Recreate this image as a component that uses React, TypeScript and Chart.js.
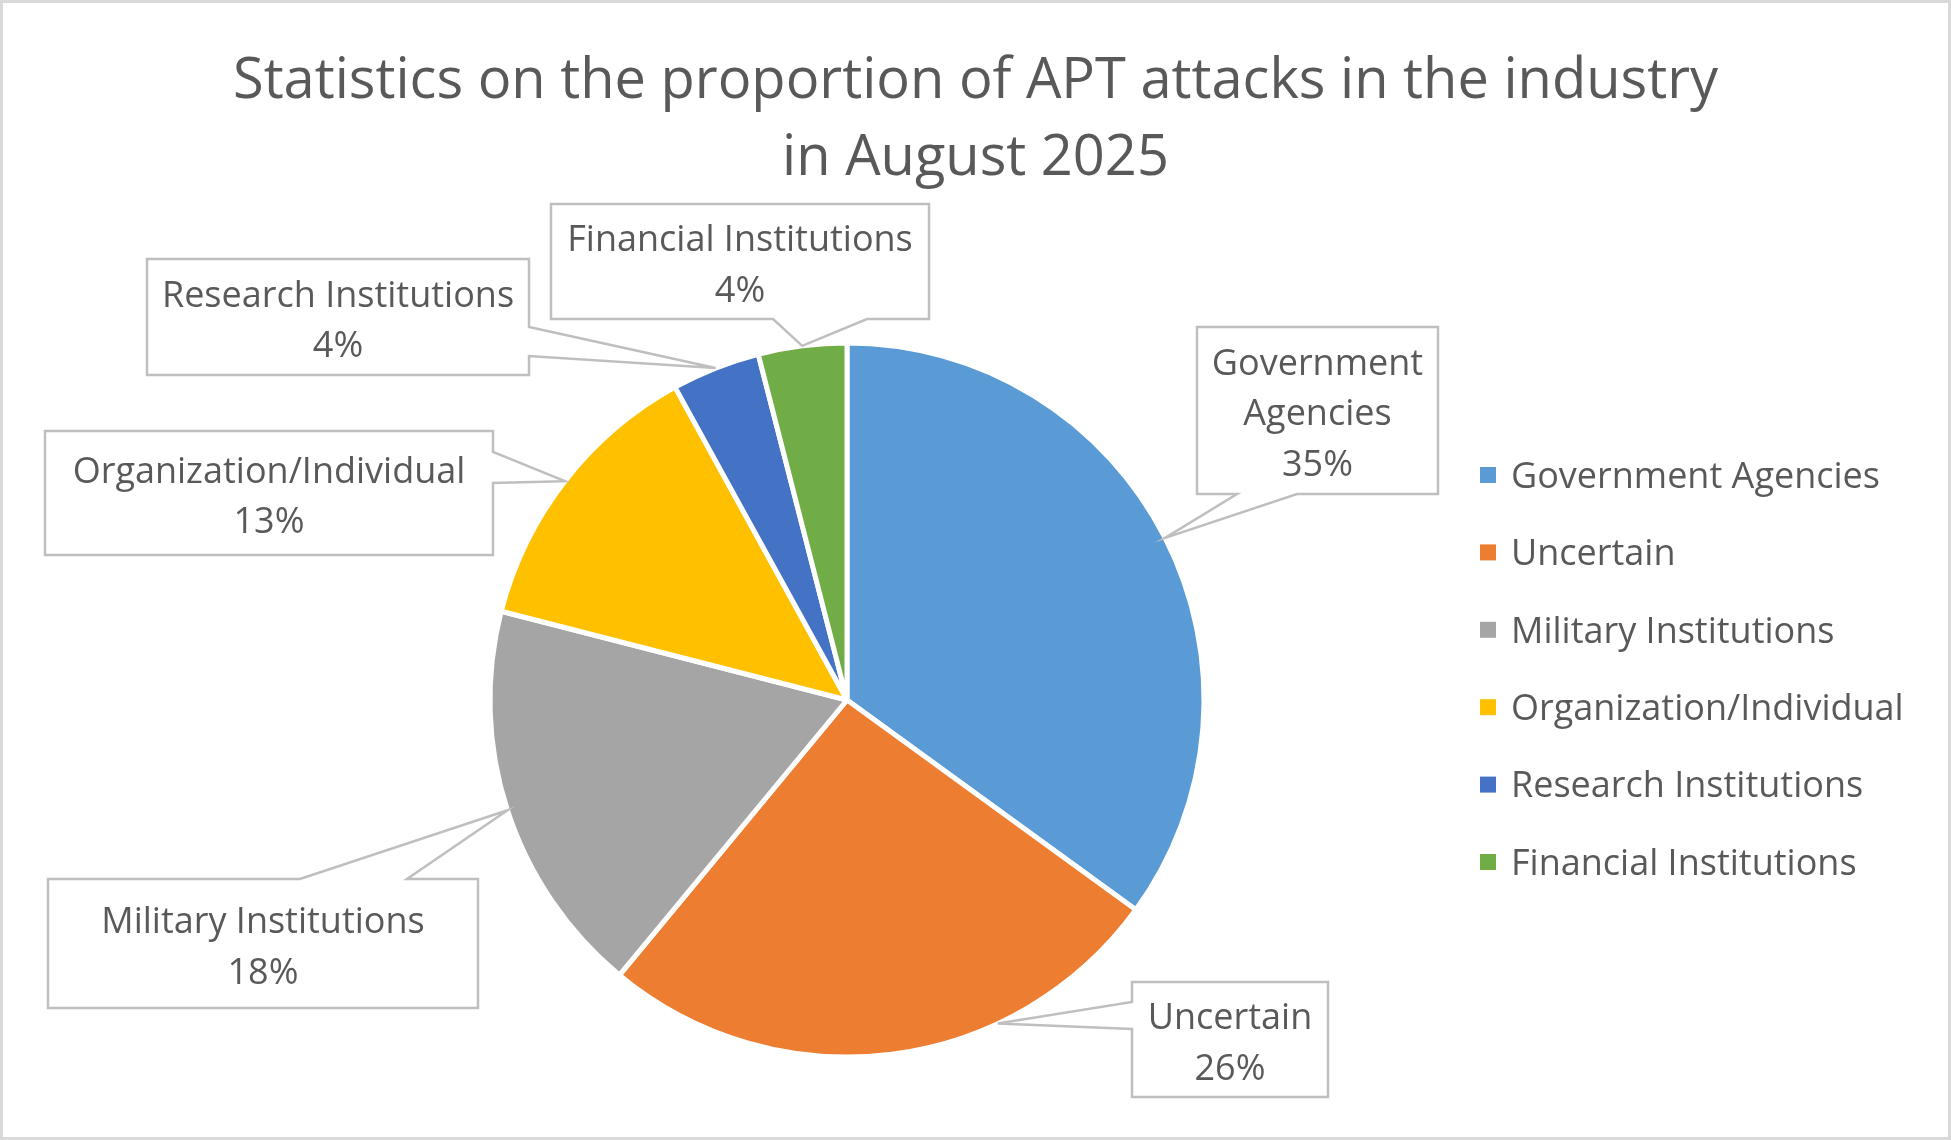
import React, { useEffect, useRef } from "react";
import { Chart, registerables } from "chart.js";

Chart.register(...registerables);

// ---------------- data ----------------
const categories = [
  "Government Agencies",
  "Uncertain",
  "Military Institutions",
  "Organization/Individual",
  "Research Institutions",
  "Financial Institutions",
];
const shares = [35, 26, 18, 13, 4, 4];
const sliceColors = ["#5B9BD5", "#ED7D31", "#A5A5A5", "#FFC000", "#4472C4", "#70AD47"];
const titleLines = ["Statistics on the proportion of APT attacks in the industry", "in August 2025"];
const labelNameLines = [
  ["Government", "Agencies"],
  ["Uncertain"],
  ["Military Institutions"],
  ["Organization/Individual"],
  ["Research Institutions"],
  ["Financial Institutions"],
];

// ---------------- layout (styling only) ----------------
const W = 1951;
const H = 1140;
const FONT = '"Open Sans", "Noto Sans", sans-serif';
const TEXT_COLOR = "#595959";
const BOX_STROKE = "#BFBFBF";
// box rect, which edge carries the pointer, pointer base offsets along that edge,
// and where along the slice's arc the pointer tip touches (0..1)
const CALLOUTS = [
  { x: 1197, y: 327, w: 241, h: 167, edge: "bottom", a: 40, b: 100, t: 0.5 },
  { x: 1132, y: 982, w: 196, h: 115, edge: "left", a: 20, b: 47, t: 0.31 },
  { x: 48, y: 879, w: 430, h: 129, edge: "top", a: 252, b: 359, t: 0.5 },
  { x: 45, y: 431, w: 448, h: 124, edge: "right", a: 21, b: 52, t: 0.5 },
  { x: 147, y: 259, w: 382, h: 116, edge: "right", a: 68, b: 97, t: 0.5 },
  { x: 551, y: 204, w: 378, h: 115, edge: "bottom", a: 222, b: 316, t: 0.5 },
];

const decorPlugin = {
  id: "decor",
  beforeDraw(chart: any) {
    const ctx = chart.ctx;
    ctx.save();
    ctx.fillStyle = "#FFFFFF";
    ctx.fillRect(0, 0, W, H);
    ctx.restore();
  },
  afterDatasetsDraw(chart: any) {
    const ctx = chart.ctx;
    const meta = chart.getDatasetMeta(0);
    const values = chart.data.datasets[0].data as number[];
    const total = values.reduce((s, v) => s + v, 0);
    ctx.save();
    meta.data.forEach((arc: any, i: number) => {
      const p = arc.getProps(["x", "y", "startAngle", "endAngle", "outerRadius"], true);
      const c = CALLOUTS[i];
      const ang = p.startAngle + (p.endAngle - p.startAngle) * c.t;
      const tx = p.x + Math.cos(ang) * p.outerRadius;
      const ty = p.y + Math.sin(ang) * p.outerRadius;
      const { x, y, w, h, edge, a, b } = c;
      ctx.beginPath();
      ctx.moveTo(x, y);
      if (edge === "top") {
        ctx.lineTo(x + a, y);
        ctx.lineTo(tx, ty);
        ctx.lineTo(x + b, y);
      }
      ctx.lineTo(x + w, y);
      if (edge === "right") {
        ctx.lineTo(x + w, y + a);
        ctx.lineTo(tx, ty);
        ctx.lineTo(x + w, y + b);
      }
      ctx.lineTo(x + w, y + h);
      if (edge === "bottom") {
        ctx.lineTo(x + b, y + h);
        ctx.lineTo(tx, ty);
        ctx.lineTo(x + a, y + h);
      }
      ctx.lineTo(x, y + h);
      if (edge === "left") {
        ctx.lineTo(x, y + b);
        ctx.lineTo(tx, ty);
        ctx.lineTo(x, y + a);
      }
      ctx.closePath();
      ctx.fillStyle = "#FFFFFF";
      ctx.fill();
      ctx.lineWidth = 2.5;
      ctx.strokeStyle = BOX_STROKE;
      ctx.lineJoin = "miter";
      ctx.stroke();

      const pct = Math.round((values[i] / total) * 100) + "%";
      const lines = [...labelNameLines[i], pct];
      const lh = 50.5;
      const size = 36;
      ctx.font = `${size}px ${FONT}`;
      ctx.fillStyle = TEXT_COLOR;
      ctx.textAlign = "center";
      ctx.textBaseline = "alphabetic";
      const cy = y + h / 2 + 2;
      lines.forEach((ln, k) => {
        const lc = cy + (k - (lines.length - 1) / 2) * lh;
        ctx.fillText(ln, x + w / 2, lc + size * 0.357);
      });
    });
    ctx.restore();
  },
  afterDraw(chart: any) {
    const ctx = chart.ctx;
    ctx.save();
    // title
    ctx.font = `56px ${FONT}`;
    ctx.fillStyle = TEXT_COLOR;
    ctx.textAlign = "center";
    ctx.textBaseline = "alphabetic";
    ctx.fillText(titleLines[0], W / 2, 98);
    ctx.fillText(titleLines[1], W / 2, 175);

    // legend
    const labels = chart.data.labels as string[];
    const colors = chart.data.datasets[0].backgroundColor as string[];
    ctx.font = `36px ${FONT}`;
    ctx.textAlign = "left";
    labels.forEach((lab, i) => {
      const cy = 475 + i * 77.4;
      ctx.fillStyle = colors[i];
      ctx.fillRect(1480, cy - 8, 16, 16);
      ctx.fillStyle = TEXT_COLOR;
      ctx.fillText(lab, 1511, cy + 36 * 0.357);
    });

    // outer border
    ctx.strokeStyle = "#D9D9D9";
    ctx.lineWidth = 3;
    ctx.strokeRect(1.5, 1.5, W - 3, H - 3);
    ctx.restore();
  },
};

export default function App() {
  const ref = useRef<HTMLCanvasElement | null>(null);
  useEffect(() => {
    document.body.style.margin = "0";
    if (!ref.current) return;
    const chart = new Chart(ref.current, {
      type: "pie",
      data: {
        labels: categories,
        datasets: [
          {
            data: shares,
            backgroundColor: sliceColors,
            borderColor: "#FFFFFF",
            borderWidth: 5,
          },
        ],
      },
      options: {
        responsive: false,
        animation: false,
        events: [],
        radius: 357,
        layout: { padding: { left: 487, right: W - 1207, top: 340, bottom: H - 1060 } },
        plugins: {
          legend: { display: false },
          title: { display: false },
          tooltip: { enabled: false },
        },
      } as any,
      plugins: [decorPlugin],
    });
    return () => chart.destroy();
  }, []);
  return (
    <div style={{ width: W, height: H }}>
      <canvas ref={ref} width={W} height={H} style={{ display: "block", width: W, height: H }} />
    </div>
  );
}
